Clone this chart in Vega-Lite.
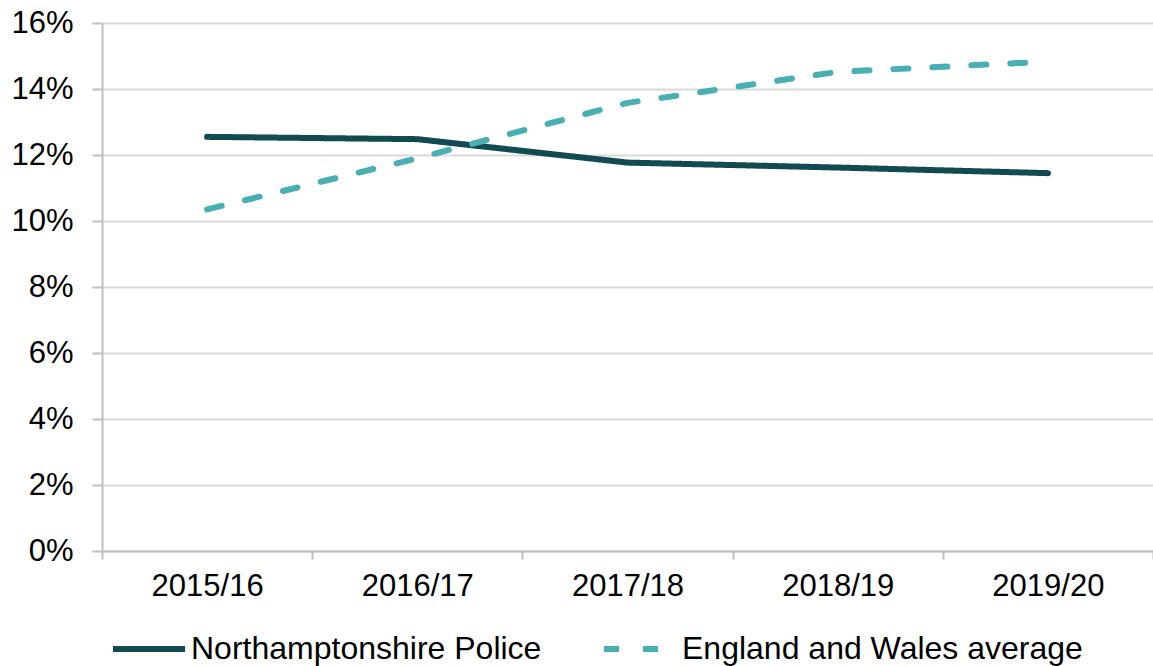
{
  "$schema": "https://vega.github.io/schema/vega-lite/v6.json",
  "width": 1051,
  "height": 528,
  "autosize": {"type": "none"},
  "padding": {"left": 102, "top": 23, "right": 0, "bottom": 115},
  "background": "white",
  "config": {
    "font": "Liberation Sans",
    "view": {"stroke": null},
    "legend": {
      "title": null,
      "orient": "none",
      "legendX": 8,
      "legendY": 587,
      "direction": "horizontal",
      "symbolType": "stroke",
      "symbolSize": 5184,
      "symbolStrokeWidth": 6,
      "labelFontSize": 32,
      "labelColor": "#000000",
      "labelOffset": 3,
      "columnPadding": 50,
      "labelLimit": 500
    }
  },
  "data": {
    "values": [
      {"year": "2015/16", "series": "Northamptonshire Police", "value": 0.1255},
      {"year": "2016/17", "series": "Northamptonshire Police", "value": 0.1248},
      {"year": "2017/18", "series": "Northamptonshire Police", "value": 0.1177},
      {"year": "2018/19", "series": "Northamptonshire Police", "value": 0.1162},
      {"year": "2019/20", "series": "Northamptonshire Police", "value": 0.1145},
      {"year": "2015/16", "series": "England and Wales average", "value": 0.1035},
      {"year": "2016/17", "series": "England and Wales average", "value": 0.119},
      {"year": "2017/18", "series": "England and Wales average", "value": 0.1358},
      {"year": "2018/19", "series": "England and Wales average", "value": 0.1452},
      {"year": "2019/20", "series": "England and Wales average", "value": 0.1483}
    ]
  },
  "mark": {"type": "line", "strokeWidth": 6, "strokeCap": "round", "strokeJoin": "round"},
  "encoding": {
    "x": {
      "field": "year",
      "type": "ordinal",
      "bandPosition": 0.5,
      "scale": {"type": "band", "paddingInner": 0, "paddingOuter": 0},
      "axis": {
        "title": null,
        "labelAngle": 0,
        "labelFontSize": 31,
        "labelColor": "#000000",
        "labelPadding": 12,
        "tickBand": "extent",
        "tickSize": 8,
        "tickWidth": 2,
        "tickColor": "#bfbfbf",
        "domainColor": "#bfbfbf",
        "domainWidth": 2,
        "grid": false,
        "labelOverlap": false
      }
    },
    "y": {
      "field": "value",
      "type": "quantitative",
      "scale": {"domain": [0, 0.16], "nice": false},
      "axis": {
        "title": null,
        "format": ".0%",
        "values": [0, 0.02, 0.04, 0.06, 0.08, 0.1, 0.12, 0.14, 0.16],
        "labelFontSize": 31,
        "labelColor": "#000000",
        "labelPadding": 19,
        "tickSize": 10,
        "tickWidth": 2,
        "tickColor": "#bfbfbf",
        "domainColor": "#bfbfbf",
        "domainWidth": 2,
        "grid": true,
        "gridColor": "#d9d9d9",
        "gridWidth": 2
      }
    },
    "color": {
      "field": "series",
      "type": "nominal",
      "scale": {
        "domain": ["Northamptonshire Police", "England and Wales average"],
        "range": ["#124a54", "#48afb3"]
      }
    },
    "strokeDash": {
      "field": "series",
      "type": "nominal",
      "scale": {
        "domain": ["Northamptonshire Police", "England and Wales average"],
        "range": [[1, 0], [15, 24]]
      }
    }
  }
}
